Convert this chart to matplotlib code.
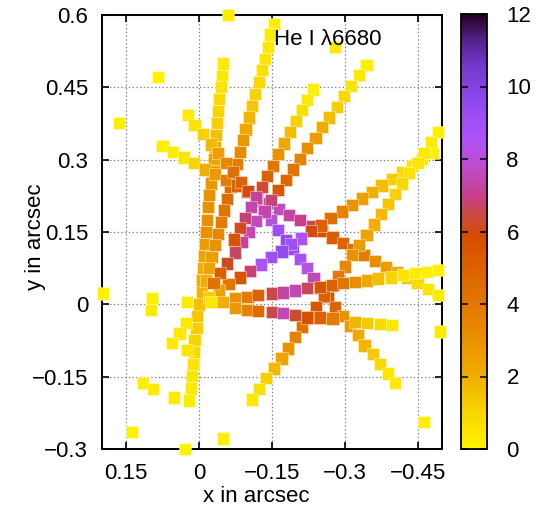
import numpy as np
import matplotlib
matplotlib.use("Agg")
import matplotlib.pyplot as plt
from matplotlib.colors import LinearSegmentedColormap

plt.rcParams['font.family'] = ['Liberation Sans', 'DejaVu Sans']

# ---- He I 6680 emission, sampled along several slit positions ----
# (x, y in arcsec; value = line strength)
slit1_x = [-0.049, -0.047, -0.045, -0.041, -0.039, -0.037, -0.035, -0.033, -0.031, -0.029,
           -0.024, -0.020, -0.018, -0.016, -0.014, -0.012, -0.010, -0.008, -0.006, -0.006,
           0.000, 0.004, 0.006, 0.009, 0.011, 0.013, 0.015, 0.017, 0.021]
slit1_y = [0.500, 0.473, 0.451, 0.426, 0.401, 0.376, 0.351, 0.326, 0.301, 0.276,
           0.251, 0.227, 0.202, 0.175, 0.150, 0.125, 0.100, 0.075, 0.050, 0.025,
           0.000, -0.024, -0.049, -0.074, -0.099, -0.124, -0.149, -0.174, -0.199]
slit1_v = [0.3, 0.4, 0.6, 0.8, 1.0, 1.2, 1.5, 2.0, 2.3, 2.5,
           2.8, 3.0, 3.0, 3.0, 3.0, 2.6, 2.3, 2.0, 2.0, 1.8,
           1.5, 1.4, 1.2, 1.0, 0.8, 0.6, 0.5, 0.4, 0.3]

slit2_x = [-0.154, -0.146, -0.142, -0.136, -0.129, -0.123, -0.115, -0.109, -0.103, -0.096,
           -0.090, -0.084, -0.078, -0.070, -0.064, -0.057, -0.051, -0.045, -0.039, -0.033,
           -0.026, -0.020, -0.014]
slit2_y = [0.581, 0.559, 0.534, 0.509, 0.486, 0.461, 0.436, 0.411, 0.388, 0.363,
           0.341, 0.316, 0.291, 0.266, 0.243, 0.218, 0.195, 0.171, 0.146, 0.123,
           0.098, 0.075, 0.050]
slit2_v = [0.2, 0.3, 0.4, 0.5, 0.7, 0.9, 1.1, 1.4, 1.8, 2.2,
           2.8, 3.3, 3.8, 4.3, 4.6, 4.5, 4.2, 3.8, 3.4, 3.0,
           2.6, 2.3, 2.0]

slit3_x = [0.076, 0.054, 0.031, 0.011, -0.012, -0.033, -0.055, -0.078, -0.099, -0.119,
           -0.144, -0.164, -0.185, -0.208, -0.232, -0.253, -0.274, -0.296, -0.317, -0.339,
           -0.362, -0.385, -0.407, -0.428, -0.449, -0.471, -0.492]
slit3_y = [0.328, 0.316, 0.305, 0.293, 0.280, 0.270, 0.258, 0.247, 0.233, 0.222,
           0.210, 0.198, 0.185, 0.175, 0.162, 0.152, 0.139, 0.127, 0.115, 0.102,
           0.090, 0.077, 0.067, 0.056, 0.044, 0.032, 0.019]
slit3_v = [0.2, 0.3, 0.5, 1.0, 2.0, 2.8, 3.8, 4.8, 5.8, 6.5,
           7.3, 7.6, 7.3, 7.0, 6.6, 5.8, 5.2, 4.8, 4.3, 3.8,
           3.2, 2.6, 2.0, 1.4, 0.9, 0.5, 0.3]

slit4_x = [0.023, 0.009, -0.008, -0.024, -0.039, -0.055, -0.070, -0.086, -0.101, -0.117,
           -0.134, -0.148, -0.162, -0.179, -0.193, -0.208, -0.222, -0.236, -0.249, -0.265,
           -0.280, -0.296, -0.311, -0.327, -0.341, -0.358, -0.372, -0.389, -0.403]
slit4_y = [0.393, 0.372, 0.353, 0.332, 0.314, 0.293, 0.274, 0.254, 0.235, 0.214,
           0.193, 0.175, 0.154, 0.133, 0.115, 0.094, 0.075, 0.054, 0.034, 0.015,
           -0.006, -0.024, -0.045, -0.064, -0.085, -0.103, -0.124, -0.143, -0.163]
slit4_v = [0.3, 0.6, 1.1, 1.7, 2.5, 3.4, 4.3, 5.0, 6.0, 6.8,
           7.5, 8.2, 9.0, 9.5, 9.3, 8.8, 8.2, 7.5, 6.0, 5.5,
           4.8, 3.0, 2.6, 2.2, 1.8, 1.3, 0.9, 0.5, 0.3]

slit5_x = [-0.481, -0.459, -0.438, -0.418, -0.397, -0.376, -0.356, -0.335, -0.315, -0.294,
           -0.271, -0.251, -0.230, -0.210, -0.189, -0.169, -0.148, -0.127, -0.105, -0.084,
           -0.061, -0.041, -0.020]
slit5_y = [0.314, 0.301, 0.287, 0.274, 0.260, 0.247, 0.233, 0.220, 0.206, 0.193,
           0.179, 0.164, 0.152, 0.137, 0.125, 0.110, 0.098, 0.083, 0.069, 0.056,
           0.042, 0.029, 0.015]
slit5_v = [0.2, 0.4, 0.6, 0.9, 1.2, 1.6, 2.0, 2.5, 3.0, 3.6,
           4.3, 5.0, 6.0, 8.5, 9.0, 9.5, 9.0, 8.6, 6.8, 5.5,
           4.0, 2.5, 1.2]

slit6_x = [-0.492, -0.477, -0.463, -0.449, -0.432, -0.418, -0.403, -0.389, -0.374, -0.360,
           -0.344, -0.329, -0.315, -0.300, -0.286, -0.271, -0.257, -0.241, -0.226, -0.212,
           -0.197, -0.183, -0.169, -0.154, -0.138, -0.123, -0.109]
slit6_y = [0.357, 0.337, 0.314, 0.293, 0.272, 0.251, 0.229, 0.208, 0.187, 0.166,
           0.144, 0.123, 0.102, 0.079, 0.058, 0.038, 0.017, -0.006, -0.027, -0.047,
           -0.068, -0.091, -0.112, -0.133, -0.153, -0.176, -0.197]
slit6_v = [0.2, 0.3, 0.4, 0.5, 0.7, 0.9, 1.1, 1.4, 1.7, 2.0,
           2.3, 2.6, 3.0, 3.4, 3.9, 4.4, 5.0, 5.5, 5.0, 4.2,
           3.6, 3.0, 2.3, 1.7, 1.2, 0.7, 0.4]

slit7_x = [0.097, 0.025, -0.026, -0.049, -0.074, -0.099, -0.121, -0.150, -0.173, -0.197,
           -0.222, -0.249, -0.274, -0.296, -0.321, -0.346, -0.368, -0.395, -0.420, -0.444,
           -0.469, -0.492]
slit7_y = [0.013, 0.005, 0.005, 0.005, 0.013, 0.015, 0.019, 0.023, 0.025, 0.029,
           0.034, 0.036, 0.040, 0.044, 0.046, 0.050, 0.054, 0.056, 0.061, 0.065,
           0.067, 0.071]
slit7_v = [0.2, 0.3, 0.5, 2.0, 3.0, 3.8, 5.0, 6.5, 7.3, 7.5,
           6.6, 5.5, 5.0, 4.0, 3.2, 2.2, 1.6, 1.0, 0.6, 0.3,
           0.2, 0.1]

slit8_x = [-0.074, -0.099, -0.121, -0.150, -0.173, -0.197, -0.222, -0.249, -0.274,
           -0.321, -0.346, -0.372, -0.397]
slit8_y = [-0.008, -0.012, -0.014, -0.016, -0.018, -0.022, -0.027, -0.027, -0.029,
           -0.037, -0.039, -0.041, -0.043]
slit8_v = [2.8, 3.5, 4.5, 6.5, 7.5, 6.3, 5.7, 5.0, 3.8,
           1.8, 1.3, 0.8, 0.4]

slit9_x = [-0.344, -0.329, -0.313, -0.298, -0.284, -0.267, -0.253, -0.239, -0.222, -0.208,
           -0.193, -0.179, -0.162, -0.148, -0.134, -0.117, -0.103, -0.088, -0.074, -0.057,
           -0.043, -0.029]
slit9_y = [0.496, 0.476, 0.453, 0.432, 0.409, 0.388, 0.368, 0.345, 0.324, 0.301,
           0.280, 0.258, 0.237, 0.216, 0.193, 0.173, 0.150, 0.129, 0.108, 0.085,
           0.065, 0.044]
slit9_v = [0.2, 0.4, 0.6, 0.9, 1.2, 1.6, 2.1, 2.6, 3.1, 3.6,
           4.1, 4.7, 5.4, 6.8, 7.4, 7.6, 7.5, 7.2, 6.7, 6.2,
           5.2, 4.2]

slit10_x = [-0.234, -0.222, -0.212, -0.199, -0.187, -0.175, -0.162, -0.152, -0.140, -0.129,
            -0.117, -0.107, -0.094, -0.084, -0.072]
slit10_y = [0.446, 0.424, 0.403, 0.380, 0.357, 0.334, 0.312, 0.287, 0.266, 0.243,
            0.222, 0.202, 0.179, 0.158, 0.135]
slit10_v = [0.2, 0.4, 0.7, 1.1, 1.6, 2.2, 3.0, 4.0, 5.0, 6.3,
            7.2, 7.4, 6.8, 6.2, 5.5]

# faint isolated detections
faint_x = [-0.059, -0.280, 0.085, 0.165, 0.198, 0.099, 0.027, 0.041, 0.056, 0.025,
           0.116, 0.095, 0.052, 0.138, -0.049, 0.029, -0.463, -0.496]
faint_y = [0.600, 0.534, 0.471, 0.376, 0.023, -0.012, -0.039, -0.060, -0.080, -0.095,
           -0.163, -0.176, -0.193, -0.265, -0.278, -0.300, -0.244, -0.056]
faint_v = [0.3, 0.4, 0.1, 0.2, 0.1, 0.3, 0.4, 0.4, 0.3, 0.5,
           0.2, 0.3, 0.3, 0.1, 0.2, 0.1, 0.2, 0.3]

# axis ticks
xticks = [0.15, 0.0, -0.15, -0.30, -0.45]
xtick_labels = ["0.15", "0", "\u22120.15", "\u22120.3", "\u22120.45"]
yticks = [0.6, 0.45, 0.3, 0.15, 0.0, -0.15, -0.3]
ytick_labels = ["0.6", "0.45", "0.3", "0.15", "0", "\u22120.15", "\u22120.3"]
cbar_ticks = [0, 2, 4, 6, 8, 10, 12]

# yellow -> orange -> red -> magenta -> purple -> black palette
cmap_levels = [0.0, 1.0, 2.0, 3.0, 4.0, 5.0, 5.9, 6.4, 7.0, 7.8, 8.6, 9.6, 10.6, 11.3, 12.0]
cmap_colors = ["#fff500", "#f9d500", "#f0ad00", "#ea9100", "#e27700", "#dc6100",
               "#d44c00", "#cc4a3c", "#c6408c", "#c04ccc", "#ad52fa", "#9049ee",
               "#7339c8", "#54208c", "#220022"]

cmap = LinearSegmentedColormap.from_list(
    "heI", list(zip([l / 12.0 for l in cmap_levels], cmap_colors)), N=256)

slits = [(slit1_x, slit1_y, slit1_v), (slit2_x, slit2_y, slit2_v),
         (slit3_x, slit3_y, slit3_v), (slit4_x, slit4_y, slit4_v),
         (slit5_x, slit5_y, slit5_v), (slit6_x, slit6_y, slit6_v),
         (slit7_x, slit7_y, slit7_v), (slit8_x, slit8_y, slit8_v),
         (slit9_x, slit9_y, slit9_v), (slit10_x, slit10_y, slit10_v),
         (faint_x, faint_y, faint_v)]

W, H = 543, 513
fig = plt.figure(figsize=(W / 100, H / 100), dpi=100)
ax = fig.add_axes([102 / W, 1 - 449 / H, 340 / W, 434 / H])
cax = fig.add_axes([461 / W, 1 - 449 / H, 26 / W, 435 / H])

sc = None
for sx, sy, sv in slits:
    sc = ax.scatter(sx, sy, c=sv, cmap=cmap, vmin=0, vmax=12, marker='s', s=82,
                    linewidths=0.7, edgecolors=(1, 1, 1, 0.4), zorder=3, clip_on=False)

ax.set_xlim(0.2, -0.5)
ax.set_ylim(-0.3, 0.6)
ax.set_xticks(xticks)
ax.set_xticklabels(xtick_labels)
ax.set_yticks(yticks)
ax.set_yticklabels(ytick_labels)
ax.grid(True, color='#888888', linestyle=(0, (1.2, 1.8)), linewidth=0.9, zorder=0)
ax.set_axisbelow(True)
ax.tick_params(direction='in', length=5, width=1.2, top=True, right=True,
               labelsize=16, pad=10, colors='black')
for sp in ax.spines.values():
    sp.set_linewidth(1.4)

ax.text(0.505, 0.943, "He I \u03bb6680", transform=ax.transAxes, fontsize=16,
        ha='left', va='center', zorder=5)

fig.text(256 / W, 1 - 497 / H, "x in arcsec", fontsize=16, ha='center', va='center')
fig.text(35 / W, 1 - 237 / H, "y in arcsec", fontsize=16, ha='center', va='center',
         rotation=90)

cb = fig.colorbar(sc, cax=cax, ticks=cbar_ticks)
cb.outline.set_linewidth(1.3)
cax.tick_params(direction='in', length=5, width=1.1, left=True, right=True,
                labelsize=16, pad=14)
cax.set_yticklabels([str(t) for t in cbar_ticks])

fig.savefig("out.png", dpi=100)
